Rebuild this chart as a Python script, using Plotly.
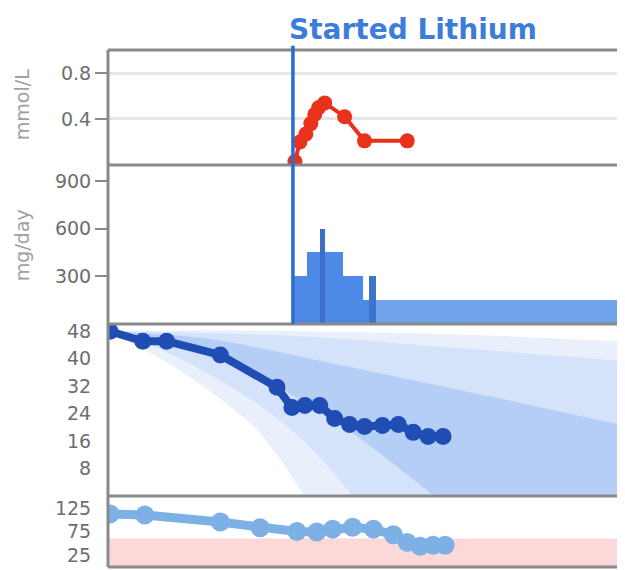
import plotly.graph_objects as go

# ---------------- data (x in weeks) ----------------
lithium_start = 18.6
x_range = [0, 52]

level_weeks = [18.8, 19.3, 19.9, 20.4, 20.8, 21.2, 21.8, 23.8, 25.8, 30.1]
level_mmol = [0.03, 0.20, 0.27, 0.36, 0.44, 0.50, 0.54, 0.42, 0.21, 0.21]

dose_start = [18.6, 20.0, 23.6, 25.6, 26.3, 27.0]
dose_end = [20.0, 23.6, 25.6, 26.3, 27.0, 52.0]
dose_mg = [300, 450, 300, 150, 300, 150]
dose_colors = ["#4d8ae8", "#4d8ae8", "#4d8ae8", "#4d8ae8", "#3f74cc", "#6fa3ec"]
spike_start = [21.3]
spike_end = [21.8]
spike_mg = [600]

score_weeks = [0.2, 3.5, 5.9, 11.3, 17.0, 18.5, 19.8, 21.3, 22.8, 24.3, 25.8, 27.6, 29.2, 30.7, 32.2, 33.7]
score_vals = [47.9, 45.0, 45.0, 41.0, 31.6, 25.7, 26.3, 26.3, 22.5, 20.8, 20.2, 20.5, 20.8, 18.5, 17.3, 17.3]

band_weeks = [0, 2.5, 5, 7.5, 10, 12.5, 15, 17.5, 20, 22.5, 25, 27.5, 30, 32.5, 35, 40, 45, 52]
band_outer_hi = [48, 48.1, 48.1, 48.2, 48.2, 48.2, 48.1, 48.0, 48.0, 47.9, 47.7, 47.6, 47.4, 47.2, 47.0, 46.5, 45.8, 45.0]
band_outer_lo = [48, 44.5, 40.5, 36, 31, 25.5, 19.5, 10, -1, -10, -20, -32, -45, -57, -70, -100, -130, -170]
band_mid_hi = [48, 47.9, 47.8, 47.6, 47.4, 47.2, 47.0, 46.7, 46.4, 45.9, 45.4, 44.9, 44.3, 43.7, 43.1, 41.9, 40.7, 39.2]
band_mid_lo = [48, 45.8, 43, 39.6, 35.7, 31.5, 26.9, 21.5, 15.2, 7.5, -1.5, -10, -20, -30, -40, -60, -80, -110]
band_inner_hi = [48, 47.6, 47.0, 46.5, 45.8, 44.6, 43.2, 41.7, 40.1, 38.6, 37.1, 35.6, 34.0, 32.5, 31.0, 28.0, 24.8, 20.5]
band_inner_lo = [48, 46.7, 45, 43, 40.6, 37.9, 34.8, 31.1, 26.9, 22.4, 17.5, 12.1, 6.4, 0.6, -5, -18, -32, -50]

vital_weeks = [0.2, 3.7, 11.3, 15.3, 19.0, 21.0, 22.6, 24.6, 26.7, 28.7, 30.1, 31.4, 32.7, 33.9]
vital_vals = [112, 110, 95, 83, 75, 74, 80, 84, 80, 68, 52, 44, 46, 46]
normal_lo, normal_hi = 0, 60

level_ticks = [0.4, 0.8]
dose_ticks = [300, 600, 900]
score_ticks = [8, 16, 24, 32, 40, 48]
vital_ticks = [25, 75, 125]

# ---------------- figure ----------------
fig = go.Figure()

band_colors = ["#e9f0fc", "#d4e3fa", "#b5cef5"]
for hi, lo, col in [(band_outer_hi, band_outer_lo, band_colors[0]),
                    (band_mid_hi, band_mid_lo, band_colors[1]),
                    (band_inner_hi, band_inner_lo, band_colors[2])]:
    fig.add_trace(go.Scatter(
        x=band_weeks + band_weeks[::-1], y=hi + lo[::-1],
        fill="toself", fillcolor=col, mode="lines", line=dict(width=0),
        xaxis="x", yaxis="y3", hoverinfo="skip", showlegend=False))

fig.add_trace(go.Scatter(
    x=score_weeks, y=score_vals, mode="lines+markers",
    line=dict(color="#1f4db3", width=8), marker=dict(color="#1f4db3", size=17),
    xaxis="x", yaxis="y3", showlegend=False))

fig.add_trace(go.Scatter(
    x=level_weeks, y=level_mmol, mode="lines+markers",
    line=dict(color="#e8321c", width=4), marker=dict(color="#e8321c", size=15),
    xaxis="x", yaxis="y", showlegend=False))

fig.add_trace(go.Bar(
    x=[(a + b) / 2 for a, b in zip(dose_start, dose_end)],
    y=dose_mg, width=[b - a for a, b in zip(dose_start, dose_end)],
    marker=dict(color=dose_colors, line=dict(width=0)),
    xaxis="x", yaxis="y2", showlegend=False))
fig.add_trace(go.Bar(
    x=[(a + b) / 2 for a, b in zip(spike_start, spike_end)],
    y=spike_mg, width=[b - a for a, b in zip(spike_start, spike_end)],
    marker=dict(color="#3a70c8", line=dict(width=0)),
    xaxis="x", yaxis="y2", showlegend=False))

fig.add_trace(go.Scatter(
    x=vital_weeks, y=vital_vals, mode="lines+markers",
    line=dict(color="#7db1e6", width=9), marker=dict(color="#7db1e6", size=19),
    xaxis="x", yaxis="y4", showlegend=False))

font_family = "DejaVu Sans, Arial, sans-serif"
tick_font = dict(family=font_family, size=19, color="#6e6e6e")

d1, d2, d3 = 0.7776, 0.4700, 0.1373

def yax(domain, rng, tickvals, visible_ticks, grid=False):
    return dict(domain=domain, range=rng, tickvals=tickvals,
                ticktext=[str(v) for v in tickvals],
                showgrid=grid, gridcolor="#e6e6e6", gridwidth=3,
                zeroline=False, showline=False,
                ticks="outside", ticklen=12, tickwidth=2,
                tickcolor="#8a8a8a" if visible_ticks else "rgba(0,0,0,0)",
                tickfont=tick_font, anchor="x", fixedrange=True)

grey = "#8a8a8a"
shapes = [
    dict(type="rect", xref="paper", yref="y4", x0=0, x1=1, y0=normal_lo, y1=normal_hi,
         fillcolor="#fcd8d8", line=dict(width=0), layer="below"),
]
for yy in [1.0, d1, d2, d3, 0.0]:
    shapes.append(dict(type="line", xref="paper", yref="paper", x0=0, x1=1, y0=yy, y1=yy,
                       line=dict(color=grey, width=3)))
shapes.append(dict(type="line", xref="paper", yref="paper", x0=0, x1=0, y0=0, y1=1,
                   line=dict(color=grey, width=3)))
shapes.append(dict(type="line", xref="x", yref="paper", x0=lithium_start, x1=lithium_start,
                   y0=d2, y1=1.008, line=dict(color="#2a6dd0", width=3.5)))

annotations = [
    dict(text="<b>Started Lithium</b>", xref="x", yref="paper", x=lithium_start,
         y=1.0406, xanchor="left", yanchor="middle", xshift=-6, showarrow=False,
         font=dict(family=font_family, size=28, color="#3b7dd8")),
    dict(text="mmol/L", xref="paper", yref="paper", x=-0.166, y=(567 - 105) / 517,
         xanchor="center", yanchor="middle", textangle=-90, showarrow=False,
         font=dict(family=font_family, size=19, color="#a0a0a0")),
    dict(text="mg/day", xref="paper", yref="paper", x=-0.166, y=(567 - 245) / 517,
         xanchor="center", yanchor="middle", textangle=-90, showarrow=False,
         font=dict(family=font_family, size=19, color="#a0a0a0")),
]

# page body adds an 8px offset; margins compensate so the plot sits at x=108..625, y=50..567
fig.update_layout(
    width=625, height=570,
    margin=dict(l=100, r=8, t=42, b=11),
    paper_bgcolor="white", plot_bgcolor="white",
    barmode="overlay", bargap=0,
    xaxis=dict(domain=[0, 1], range=x_range, showticklabels=False, showgrid=False,
               zeroline=False, showline=False, ticks="", anchor="y4", fixedrange=True),
    yaxis=yax([d1, 1.0], [0, 1], level_ticks, True, grid=True),
    yaxis2=yax([d2, d1], [0, 1000], dose_ticks, True),
    yaxis3=yax([d3, d2], [0, 50], score_ticks, False),
    yaxis4=yax([0, d3], [0, 150], vital_ticks, False),
    shapes=shapes, annotations=annotations,
    showlegend=False,
)

fig.write_html("out.html")
